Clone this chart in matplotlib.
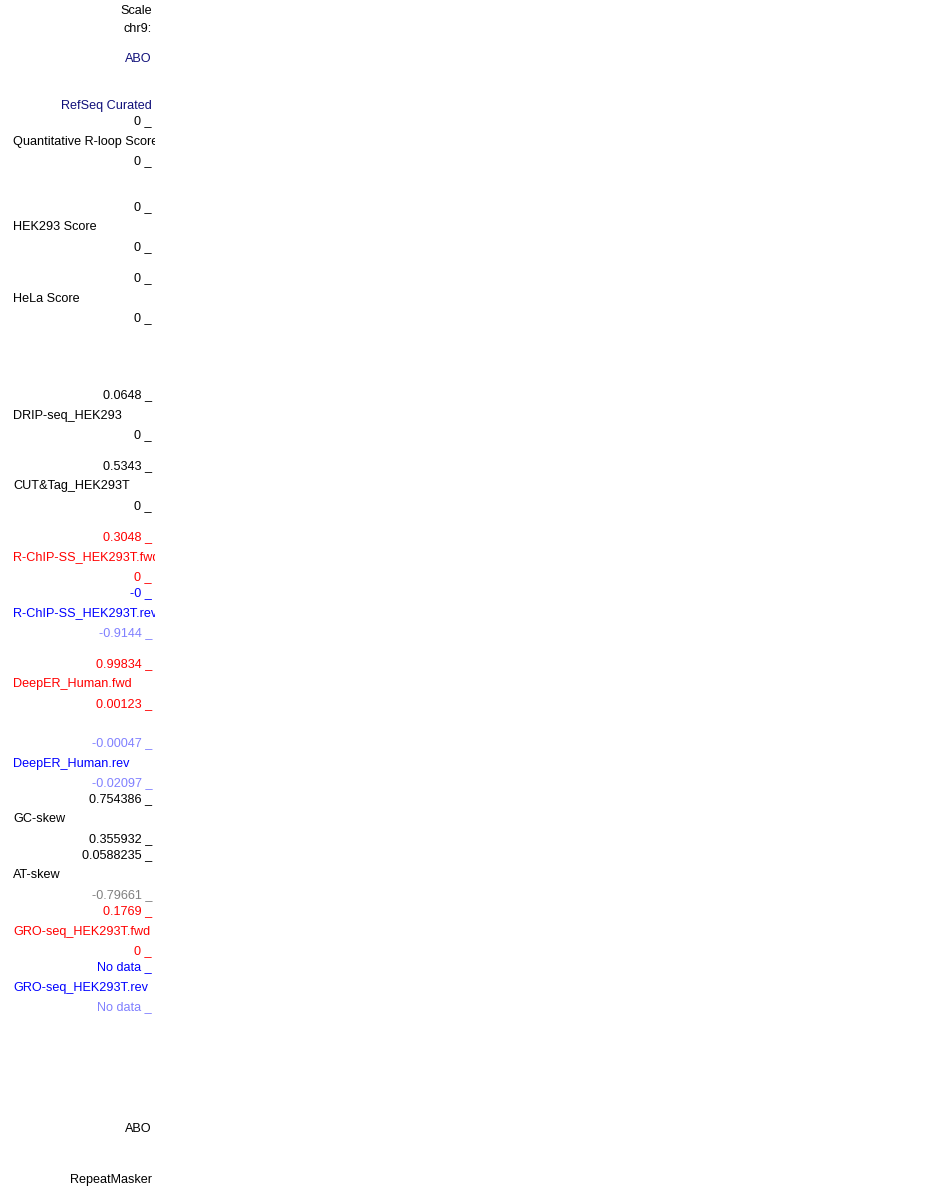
import matplotlib.pyplot as plt

# track labels of the left panel, top to bottom
labels = [
    "Scale", "chr9:", "ABO", "RefSeq Curated",
    "0 _", "Quantitative R-loop Score", "0 _",
    "0 _", "HEK293 Score", "0 _",
    "0 _", "HeLa Score", "0 _",
    "0.0648 _", "DRIP-seq_HEK293", "0 _",
    "0.5343 _", "CUT&Tag_HEK293T", "0 _",
    "0.3048 _", "R-ChIP-SS_HEK293T.fwd", "0 _",
    "-0 _", "R-ChIP-SS_HEK293T.rev", "-0.9144 _",
    "0.99834 _", "DeepER_Human.fwd", "0.00123 _",
    "-0.00047 _", "DeepER_Human.rev", "-0.02097 _",
    "0.754386 _", "GC-skew", "0.355932 _",
    "0.0588235 _", "AT-skew", "-0.79661 _",
    "0.1769 _", "GRO-seq_HEK293T.fwd", "0 _",
    "No data _", "GRO-seq_HEK293T.rev", "No data _",
    "ABO", "RepeatMasker",
]

# layout: y centre in pixels, 'r' = right aligned, 'l' = left aligned
ypos = [10, 27, 57, 104,
        120, 140, 160,
        206, 226, 246,
        277, 297, 317,
        394, 414, 434,
        465, 485, 505,
        536, 556, 576,
        592, 612, 632,
        663, 683, 703,
        742, 762, 782,
        798, 818, 838,
        854, 874, 894,
        910, 930, 950,
        966, 986, 1006,
        1128, 1179]
align = ['r', 'r', 'r', 'r',
         'r', 'l', 'r',
         'r', 'l', 'r',
         'r', 'l', 'r',
         'r', 'l', 'r',
         'r', 'l', 'r',
         'r', 'l', 'r',
         'r', 'l', 'r',
         'r', 'l', 'r',
         'r', 'l', 'r',
         'r', 'l', 'r',
         'r', 'l', 'r',
         'r', 'l', 'r',
         'r', 'l', 'r',
         'r', 'r']

navy = '#10107a'
red = '#ff0000'
blue = '#0000ff'
light = '#8080ff'
colors = ['black', 'black', navy, navy,
          'black', 'black', 'black',
          'black', 'black', 'black',
          'black', 'black', 'black',
          'black', 'black', 'black',
          'black', 'black', 'black',
          red, red, red,
          blue, blue, light,
          red, red, red,
          light, blue, light,
          'black', 'black', 'black',
          'black', 'black', '#808080',
          red, red, red,
          blue, blue, light,
          'black', 'black']

plt.rcParams['font.family'] = ['Liberation Sans', 'DejaVu Sans']

fig = plt.figure(figsize=(9.5, 11.88), dpi=100)
ax = fig.add_axes([0, 0, 155 / 950, 1])
ax.set_xlim(0, 155)
ax.set_ylim(1188, 0)
ax.axis('off')

for txt, y, a, c in zip(labels, ypos, align, colors):
    if a == 'r':
        ax.text(152, y + 1.5, txt, ha='right', va='center', color=c,
                fontsize=9.1, clip_on=True)
    else:
        ax.text(13, y + 1.5, txt, ha='left', va='center', color=c,
                fontsize=9.1, clip_on=True)

fig.savefig('out.png', dpi=100)
